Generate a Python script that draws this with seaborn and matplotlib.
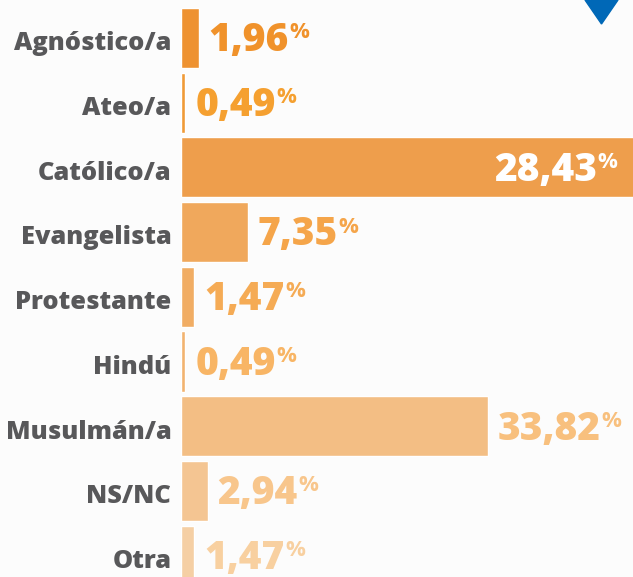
import numpy as np
import pandas as pd
import matplotlib.pyplot as plt
import matplotlib.transforms as mtransforms
import seaborn as sns

categories = ['Agnóstico/a', 'Ateo/a', 'Católico/a', 'Evangelista', 'Protestante',
              'Hindú', 'Musulmán/a', 'NS/NC', 'Otra']
values = [1.96, 0.49, 28.43, 7.35, 1.47, 0.49, 33.82, 2.94, 1.47]
# drawn bar lengths as seen in the picture (Católico bar runs off the right edge)
bar_lengths = [1.96, 0.49, 52.0, 7.35, 1.47, 0.49, 33.82, 2.94, 1.47]
bar_colors = ['#EE9231', '#F09A36', '#EE9E4C', '#F0A85C', '#F1AD64',
              '#F2B36F', '#F3BE84', '#F4C592', '#F5CFA4']
label_colors = ['#F0922B', '#F5A030', '#FFFFFF', '#F5A54A', '#F5AB55',
                '#F8B565', '#F8C07E', '#F8C68C', '#F8D0A0']

df = pd.DataFrame({'cat': categories, 'len': bar_lengths})

sns.set_style('white')
plt.rcParams['font.family'] = ['Open Sans', 'DejaVu Sans']

fig = plt.figure(figsize=(6.33, 5.77), dpi=100, facecolor='#FCFCFC')
ax = fig.add_axes([181 / 633, 0, 1 - 181 / 633, 1])
ax.set_facecolor('#FCFCFC')

sns.barplot(data=df, x='len', y='cat', hue='cat', palette=bar_colors,
            orient='h', width=0.93, legend=False, ax=ax, saturation=1)

ax.set_xlim(0, 49.8)
ax.set_ylim(8.33, -0.587)
ax.set_xlabel('')
ax.set_ylabel('')
ax.set_xticks([])
sns.despine(ax=ax, left=True, bottom=True)
ax.tick_params(axis='y', length=0, pad=7)
shift = mtransforms.ScaledTranslation(0, -2 / 72, fig.dpi_scale_trans)
for lab in ax.get_yticklabels():
    lab.set_fontsize(18.3)
    lab.set_fontweight(800)
    lab.set_color('#58585A')
    lab.set_transform(lab.get_transform() + shift)

for i, (v, b) in enumerate(zip(values, bar_lengths)):
    txt = f'{v:.2f}'.replace('.', ',')
    if b > 45:
        t = ax.annotate(txt, xy=(1, i), xycoords=('axes fraction', 'data'),
                        xytext=(-26, -2), textcoords='offset points',
                        ha='right', va='center', fontsize=28, fontweight=800,
                        color=label_colors[i])
    else:
        t = ax.annotate(txt, xy=(b, i), xytext=(7, -2), textcoords='offset points',
                        ha='left', va='center', fontsize=28, fontweight=800,
                        color=label_colors[i])
    ax.annotate('%', xy=(1, 0.97), xycoords=t, xytext=(0.5, 0), textcoords='offset points',
                ha='left', va='top', fontsize=16, fontweight='bold', color=label_colors[i])

# blue dropdown marker at top right
fig.patches.append(plt.Polygon([(585 / 633, 1.0), (618 / 633, 1.0), (601.5 / 633, 1 - 24 / 577)],
                               closed=True, transform=fig.transFigure, color='#0068B7'))

fig.savefig('out.png', dpi=100, facecolor=fig.get_facecolor())
